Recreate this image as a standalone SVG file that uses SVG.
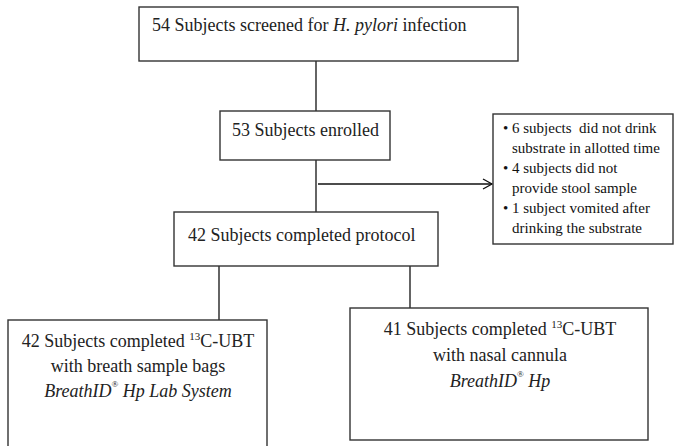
<svg xmlns="http://www.w3.org/2000/svg" width="681" height="446" viewBox="0 0 681 446">
<defs>
<style>
.box{fill:#fff;stroke:#333;stroke-width:1.4}
.t{font-family:"Liberation Serif","Times New Roman",serif;font-size:18px;fill:#222}
.s{font-family:"Liberation Serif","Times New Roman",serif;font-size:15px;fill:#111;white-space:pre}
.c{stroke:#111;stroke-width:1.3;fill:none}
</style>
<marker id="ah" markerWidth="12" markerHeight="12" refX="10" refY="6" orient="auto" markerUnits="userSpaceOnUse">
<path d="M1,1 L10,6 L1,11" fill="none" stroke="#111" stroke-width="1.3"/>
</marker>
</defs>
<rect width="681" height="446" fill="#fff"/>
<g id="connectors">
<line class="c" x1="316" y1="61" x2="316" y2="111"/>
<line class="c" x1="316" y1="160" x2="316" y2="212"/>
<line class="c" x1="318" y1="184" x2="492" y2="184" marker-end="url(#ah)"/>
<line class="c" x1="219" y1="266" x2="219" y2="320"/>
<line class="c" x1="410" y1="266" x2="410" y2="308"/>
</g>
<g id="n1">
<rect class="box" x="139" y="7" width="379" height="54"/>
<text class="t" x="152" y="31">54 Subjects screened for <tspan font-style="italic">H. pylori</tspan> infection</text>
</g>
<g id="n2">
<rect class="box" x="220" y="111" width="170" height="49"/>
<text class="t" x="232" y="136" font-size="17.5">53 Subjects enrolled</text>
</g>
<g id="n3">
<rect class="box" x="493" y="114" width="180" height="130"/>
<text class="s" x="503" y="133" xml:space="preserve">• 6 subjects  did not drink</text>
<text class="s" x="512" y="153">substrate in allotted time</text>
<text class="s" x="503" y="173">• 4 subjects did not</text>
<text class="s" x="512" y="193">provide stool sample</text>
<text class="s" x="503" y="213">• 1 subject vomited after</text>
<text class="s" x="512" y="233">drinking the substrate</text>
</g>
<g id="n4">
<rect class="box" x="174" y="212" width="264" height="54"/>
<text class="t" x="188" y="241" font-size="17.5">42 Subjects completed protocol</text>
</g>
<g id="n5">
<rect class="box" x="8" y="320" width="259" height="140"/>
<text class="t" x="138" y="347" text-anchor="middle" font-size="17">42 Subjects completed <tspan font-size="11" dy="-7">13</tspan><tspan dy="7">C-UBT</tspan></text>
<text class="t" x="138" y="372" text-anchor="middle" font-size="17">with breath sample bags</text>
<text class="t" x="138" y="397" text-anchor="middle" font-size="17" font-style="italic">BreathID<tspan font-size="9" font-style="normal" dy="-10">®</tspan><tspan dy="10"> Hp Lab System</tspan></text>
</g>
<g id="n6">
<rect class="box" x="350" y="308" width="298" height="132" stroke="#111"/>
<text class="t" x="500" y="335" text-anchor="middle">41 Subjects completed <tspan font-size="11" dy="-7">13</tspan><tspan dy="7">C-UBT</tspan></text>
<text class="t" x="500" y="361" text-anchor="middle">with nasal cannula</text>
<text class="t" x="500" y="387" text-anchor="middle" font-style="italic">BreathID<tspan font-size="9" font-style="normal" dy="-10">®</tspan><tspan dy="10"> Hp</tspan></text>
</g>
</svg>
